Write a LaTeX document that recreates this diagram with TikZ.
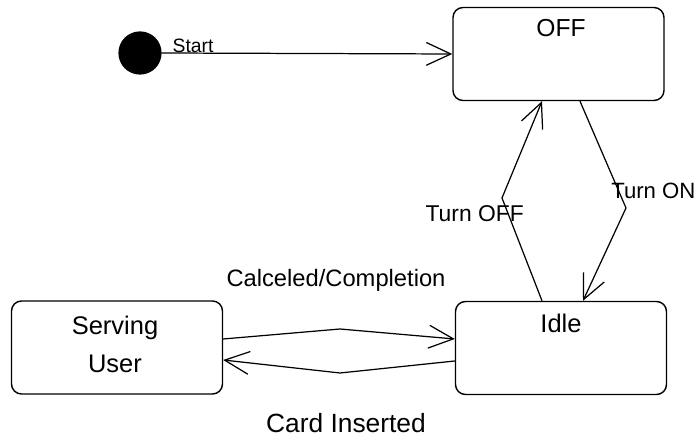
\documentclass[tikz,border=0pt]{standalone}
\usepackage{fontspec}
\setmainfont{Liberation Sans}
\usetikzlibrary{arrows.meta,calc}
\tikzset{
    state/.style={draw, rectangle, rounded corners=0.2cm, minimum width=4.22cm, minimum height=1.86cm, inner sep=0pt, line width=0.8pt},
    initial/.style={draw, circle, fill=black, inner sep=0pt, minimum size=0.84cm},
    txt/.style={inner sep=0pt, font=\fs{#1}}, txt/.default=14,
    barb/.tip={Straight Barb[length=14pt,width=13pt]}}
\newcommand{\fs}[1]{\fontsize{#1}{1.5\dimexpr #1pt\relax}\selectfont}

\begin{document}
\begin{tikzpicture}[line width=0.7pt]
\useasboundingbox (0,0) rectangle (13.96,8.78);

%states
\node[initial] (start) at (2.80,7.72) {};
\node[state] (off) at (11.17,7.70) {};
\node[state] (idle) at (11.22,1.82) {};
\node[state] (serving) at (2.34,1.83) {};
\node[txt, anchor=base] (offtxt) at (11.22,8.04) {OFF};
\node[txt=14.5, anchor=base] (idletxt) at (11.22,2.12) {Idle};
\node[txt=14.5, anchor=base, align=center] (servingtxt) at (2.30,1.32) {Serving\\User};

%transitions
\coordinate (koff) at (10.04,4.82);
\coordinate (kon) at (12.52,4.62);
\coordinate (kcanc) at (6.80,2.20);
\coordinate (kcard) at (6.80,1.32);
\draw [-barb](start.east)--(off.west);
\draw [-barb]([xshift=-0.38cm]idle.north)--(koff)--([xshift=-0.33cm]off.south);
\draw [-barb]([xshift=0.43cm]off.south)--(kon)--([xshift=0.44cm]idle.north);
\draw [-barb]([yshift=0.17cm]serving.east)--(kcanc)--([yshift=0.18cm]idle.west);
\draw [-barb]([yshift=-0.26cm]idle.west)--(kcard)--([yshift=-0.25cm]serving.east);

%labels
\node[txt=11, anchor=base west] (starttxt) at (3.44,7.72) {Start};
\node[txt=13, anchor=base west] (turnoff) at (8.50,4.34) {Turn OFF};
\node[txt=12.6, anchor=base east] (turnon) at (13.92,4.80) {Turn ON};
\node[txt=13.5, anchor=base] (canc) at (6.72,3.04) {Calceled/Completion};
\node[txt=15, anchor=base] (card) at (6.92,0.12) {Card Inserted};
\end{tikzpicture}
\end{document}
